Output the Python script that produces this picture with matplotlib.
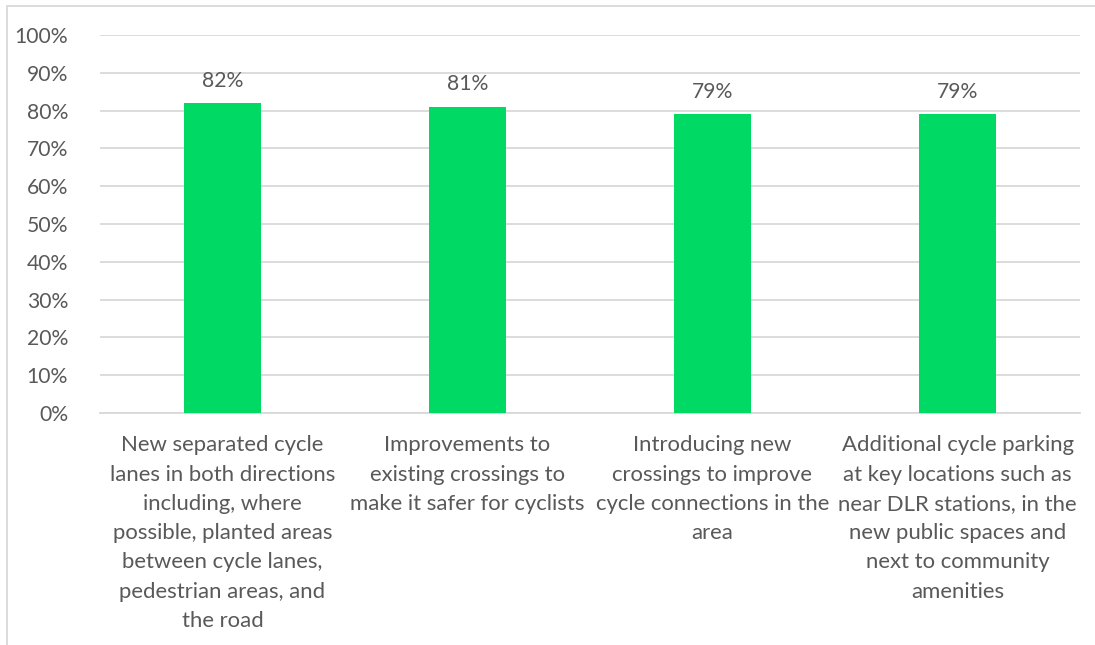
import matplotlib.pyplot as plt
from matplotlib.ticker import PercentFormatter
from matplotlib.patches import Rectangle

# Dane
categories = [
    "New separated cycle\nlanes in both directions\nincluding, where\npossible, planted areas\nbetween cycle lanes,\npedestrian areas, and\nthe road",
    "Improvements to\nexisting crossings to\nmake it safer for cyclists",
    "Introducing new\ncrossings to improve\ncycle connections in the\narea",
    "Additional cycle parking\nat key locations such as\nnear DLR stations, in the\nnew public spaces and\nnext to community\namenities",
]
values = [0.82, 0.81, 0.79, 0.79]
value_labels = ["82%", "81%", "79%", "79%"]

plt.rcParams['font.family'] = ['Lato', 'DejaVu Sans']
text_color = '#595959'
grid_color = '#D9D9D9'

fig = plt.figure(figsize=(10.95, 6.45), dpi=100)
ax = fig.add_axes([100 / 1095, 1 - 413 / 645, 980 / 1095, 378 / 645])

x = range(len(categories))
bars = ax.bar(x, values, width=0.314, color='#00D964', zorder=3)

# Etykiety wartości nad słupkami
for bar, lab in zip(bars, value_labels):
    ax.annotate(lab, (bar.get_x() + bar.get_width() / 2, bar.get_height()),
                xytext=(0, 9), textcoords='offset points',
                ha='center', va='bottom', fontsize=15.2, color=text_color)

ax.set_ylim(0, 1.0)
ax.set_xlim(-0.5, len(categories) - 0.5)
ax.set_yticks([i / 10 for i in range(11)])
ax.yaxis.set_major_formatter(PercentFormatter(1.0, decimals=0))
ax.grid(axis='y', color=grid_color, linewidth=1.3, zorder=0)
ax.set_axisbelow(True)

for side in ['top', 'right', 'left']:
    ax.spines[side].set_visible(False)
ax.spines['bottom'].set_color(grid_color)
ax.spines['bottom'].set_linewidth(1.3)

ax.set_xticks(list(x))
ax.set_xticklabels(categories, fontsize=15.9, color=text_color,
                   linespacing=1.58, va='top')
ax.tick_params(axis='x', length=0, pad=16)
ax.tick_params(axis='y', length=0, pad=23, labelsize=15.2, labelcolor=text_color)

# Ramka wykresu
fig.patches.append(Rectangle((7 / 1095, -0.01), 1.02, 1 - 6 / 645 + 0.01,
                             transform=fig.transFigure, fill=False,
                             edgecolor=grid_color, linewidth=1.3))

fig.savefig('out.png', dpi=100, facecolor='white')
